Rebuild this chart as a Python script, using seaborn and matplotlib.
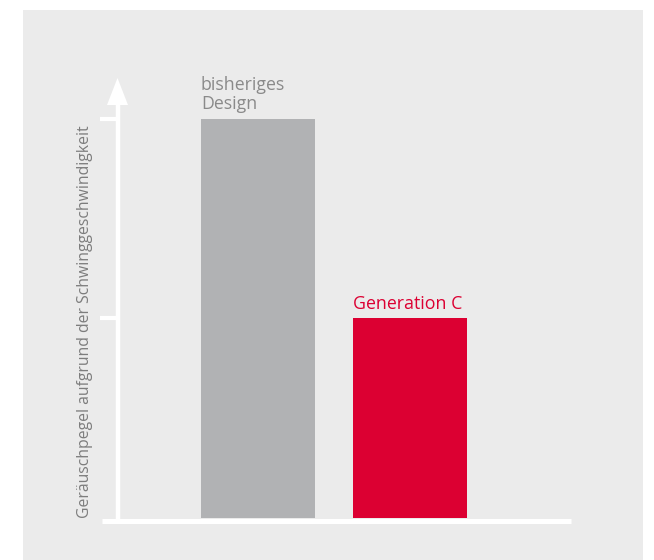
import matplotlib
matplotlib.use("Agg")
import matplotlib.pyplot as plt
import matplotlib.transforms as mtransforms
from matplotlib.patches import Rectangle, Polygon
import seaborn as sns
import pandas as pd

categories = ["bisheriges\nDesign", "Generation C"]
values = [2.0, 1.0]
bar_colors = ["#b1b2b4", "#dc0032"]
label_colors = ["#8a8a8a", "#dc0032"]
yticks = [1.0, 2.0]
ylabel = "Geräuschpegel aufgrund der Schwinggeschwindigkeit"

sns.set_theme(style="white")
plt.rcParams["font.family"] = ["Open Sans", "DejaVu Sans"]

W, H = 654, 560
fig = plt.figure(figsize=(W / 100, H / 100), dpi=100, facecolor="white")
fig.patches.append(Rectangle((23 / W, 0), 620 / W, 550 / H, transform=fig.transFigure,
                             facecolor="#ebebeb", edgecolor="none", zorder=-10))

AX_B, AX_T = 518, 78
axh = AX_B - AX_T
ax = fig.add_axes([102 / W, 1 - AX_B / H, (571 - 102) / W, axh / H])
ax.set_facecolor("none")

df = pd.DataFrame({"cat": categories, "val": values})
sns.barplot(data=df, x="cat", y="val", hue="cat", palette=bar_colors, saturation=1,
            width=0.75, legend=False, ax=ax, zorder=2, linewidth=0, edgecolor="none")

ax.set_xlim(-1.026, 2.059)
ax.set_ylim(0, 2.205)
for s in ax.spines.values():
    s.set_visible(False)
ax.set_xticks([])
ax.set_yticks([])
ax.set_xlabel("")
ax.set_ylabel("")

# axis lines
axx = 15.5 / 469
y0 = -2.5 / axh
ax.plot([0, 1], [y0, y0], transform=ax.transAxes, color="white", lw=3.6,
        solid_capstyle="butt", clip_on=False, zorder=5)
ax.plot([axx, axx], [y0, 0.945], transform=ax.transAxes, color="white", lw=3.2,
        solid_capstyle="butt", clip_on=False, zorder=5)
ax.add_patch(Polygon([[axx - 0.0224, 1 - 27 / axh], [axx, 1.0], [axx + 0.0224, 1 - 27 / axh]],
                     closed=True, transform=ax.transAxes, facecolor="white",
                     edgecolor="none", clip_on=False, zorder=5))
blend = mtransforms.blended_transform_factory(ax.transAxes, ax.transData)
for t in yticks:
    ax.plot([-0.004, axx], [t, t], transform=blend, color="white", lw=3.0,
            solid_capstyle="butt", clip_on=False, zorder=5)

# bar labels
for i, (c, v) in enumerate(zip(categories, values)):
    ax.annotate(c, xy=(i - 0.375, v), xytext=(0, 4.0), textcoords="offset points",
                ha="left", va="bottom", fontsize=12.8, color=label_colors[i],
                linespacing=1.1)

ax.text(-17 / 469, 0.0, ylabel, transform=ax.transAxes, rotation=90,
        ha="center", va="bottom", fontsize=11.3, color="#7d7d7d")

fig.savefig("out.png", dpi=100, facecolor="white")
